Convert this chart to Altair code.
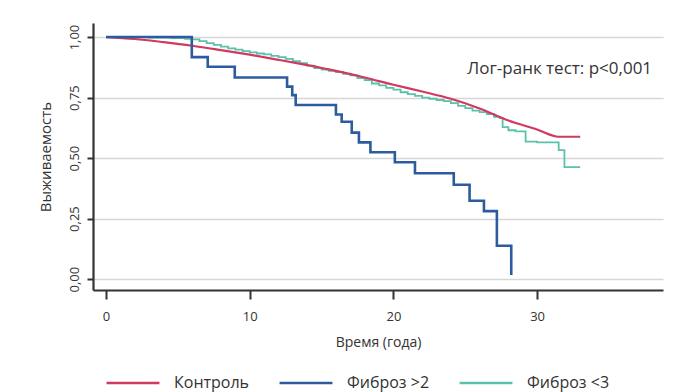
import altair as alt
import pandas as pd

# Контроль (smooth KM curve)
ctrl_t = [0, 2, 4, 6, 8, 10, 12, 14, 16, 18, 20, 22, 24, 26, 28, 30, 31.5, 33]
ctrl_s = [1.0, 0.992, 0.979, 0.964, 0.946, 0.927, 0.906, 0.884, 0.86, 0.833,
          0.803, 0.775, 0.745, 0.705, 0.655, 0.618, 0.588, 0.588]

# Фиброз >2 (step curve)
fib2_t = [0, 5.97, 7.08, 8.96, 12.6, 12.96, 13.2, 16.0, 16.4, 17.1, 17.6, 18.4,
          20.1, 21.5, 24.2, 25.3, 26.3, 27.2, 28.2, 28.2]
fib2_s = [1.0, 0.917, 0.877, 0.833, 0.795, 0.76, 0.719, 0.68, 0.65, 0.605, 0.565,
          0.524, 0.483, 0.437, 0.39, 0.324, 0.281, 0.138, 0.017, 0.017]

# Фиброз <3 (step curve)
fib3_t = [0, 3, 4.5, 5.5, 6.0, 6.5, 7.0, 7.5, 8.0, 8.5, 9.0, 9.5, 10, 10.5, 11,
          11.5, 12, 12.5, 13, 13.5, 14, 14.5, 15, 15.5, 16, 16.5, 17, 17.5, 18,
          18.5, 19, 19.5, 20, 20.5, 21, 21.5, 22, 22.5, 23, 23.5, 24, 24.5, 25,
          25.5, 26, 26.5, 27, 27.4, 27.6, 28, 28.5, 29.2, 30, 31.5, 31.9, 33]
fib3_s = [1.0, 0.998, 0.996, 0.993, 0.99, 0.983, 0.975, 0.968, 0.96, 0.953, 0.948,
          0.942, 0.937, 0.932, 0.928, 0.922, 0.917, 0.91, 0.9, 0.892, 0.882, 0.872,
          0.866, 0.86, 0.855, 0.848, 0.842, 0.83, 0.822, 0.808, 0.8, 0.79, 0.783,
          0.772, 0.764, 0.757, 0.75, 0.745, 0.74, 0.735, 0.727, 0.716, 0.706,
          0.696, 0.69, 0.682, 0.67, 0.665, 0.628, 0.615, 0.61, 0.568, 0.565,
          0.533, 0.463, 0.463]

groups = ["Контроль", "Фиброз >2", "Фиброз <3"]
colors = ["#CF3A5E", "#2D5C9E", "#5CC1AA"]

x_ticks = [0, 10, 20, 30]
y_ticks = [0, 0.25, 0.5, 0.75, 1.0]

annot_text = ["Лог-ранк тест: p<0,001"]
annot_x = [38.0]
annot_y = [0.866]

df = pd.concat([
    pd.DataFrame({"t": ctrl_t, "s": ctrl_s, "g": groups[0]}),
    pd.DataFrame({"t": fib2_t, "s": fib2_s, "g": groups[1]}),
    pd.DataFrame({"t": fib3_t, "s": fib3_s, "g": groups[2]}),
])
ann = pd.DataFrame({"t": annot_x, "s": annot_y, "label": annot_text})

FONT = "Open Sans"
TXT = "#333333"

xs = alt.X("t:Q", scale=alt.Scale(domain=[-0.905, 38.76], nice=False, zero=False),
           axis=alt.Axis(values=x_ticks, title="Время (года)", grid=False,
                         tickSize=9, tickWidth=2, tickColor=TXT,
                         domainColor=TXT, domainWidth=2.2,
                         labelPadding=11, titlePadding=12, labelFontSize=13,
                         titleFontSize=14, labelColor=TXT, titleColor=TXT,
                         labelFont=FONT, titleFont=FONT, titleFontWeight="normal"))
ys = alt.Y("s:Q", scale=alt.Scale(domain=[-0.045, 1.058], nice=False, zero=False),
           axis=alt.Axis(values=y_ticks, title="Выживаемость", grid=True,
                         gridColor="#D6D6D6", gridWidth=1.6,
                         tickSize=6, tickWidth=2, tickColor=TXT,
                         domainColor=TXT, domainWidth=2.2,
                         labelAngle=-90, labelAlign="center", labelBaseline="bottom",
                         labelExpr="replace(format(datum.value, '.2f'), '.', ',')",
                         labelPadding=6, titlePadding=15, labelFontSize=13,
                         titleFontSize=15, labelColor=TXT, titleColor=TXT,
                         labelFont=FONT, titleFont=FONT, titleFontWeight="normal"))

color = alt.Color("g:N", scale=alt.Scale(domain=groups, range=colors),
                  legend=alt.Legend(title=None, orient="none", direction="horizontal",
                                    legendX=12, legendY=332,
                                    symbolType="stroke", symbolSize=2800,
                                    symbolStrokeWidth=2.6, labelFontSize=16,
                                    labelFont=FONT, labelColor=TXT,
                                    labelOffset=13, columnPadding=24))

base = alt.Chart(df)
green = base.transform_filter(alt.datum.g == groups[2]).mark_line(
    interpolate="step-after", strokeWidth=1.8).encode(x=xs, y=ys, color=color)
red = base.transform_filter(alt.datum.g == groups[0]).mark_line(
    interpolate="monotone", strokeWidth=2.2).encode(x=xs, y=ys, color=color)
blue = base.transform_filter(alt.datum.g == groups[1]).mark_line(
    interpolate="step-after", strokeWidth=2.6).encode(x=xs, y=ys, color=color)

text = alt.Chart(ann).mark_text(align="right", baseline="middle", fontSize=17,
                                font=FONT, color=TXT).encode(
    x=alt.X("t:Q"), y=alt.Y("s:Q"), text="label:N")

chart = alt.layer(green, red, blue, text).properties(
    width=570, height=267,
    autosize=alt.AutoSizeParams(type="none"),
    padding={"left": 85, "top": 15, "right": 16, "bottom": 102},
).configure_view(stroke=None)

chart.save("out.html", embed_options={"renderer": "svg", "actions": False})
